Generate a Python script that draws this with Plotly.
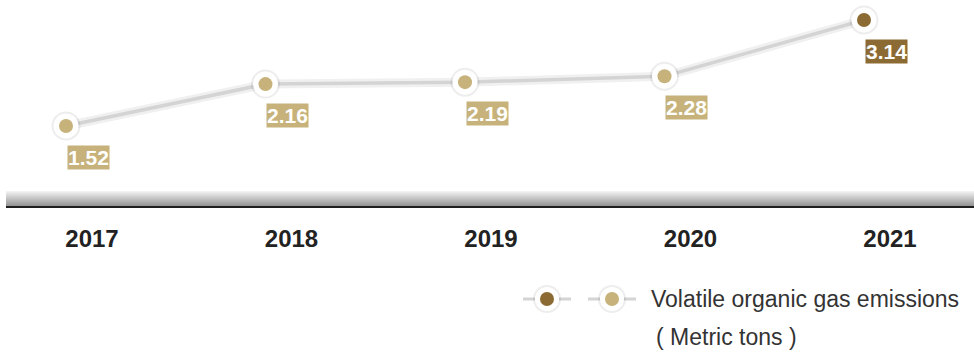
import plotly.graph_objects as go

years = [2017, 2018, 2019, 2020, 2021]
values = [1.52, 2.16, 2.19, 2.28, 3.14]
labels = ["1.52", "2.16", "2.19", "2.28", "3.14"]
tick_text = ["2017", "2018", "2019", "2020", "2021"]
legend_name = "Volatile organic gas emissions"
legend_unit = "( Metric tons )"

TAN = "#c6b27a"
DARK = "#8c6a33"
W, H = 974, 354
colors = [TAN] * (len(values) - 1) + [DARK]

fig = go.Figure()

# line shadow + line
fig.add_trace(go.Scatter(x=years, y=values, mode="lines",
                         line=dict(color="rgba(0,0,0,0.06)", width=9),
                         hoverinfo="skip"))
fig.add_trace(go.Scatter(x=years, y=values, mode="lines",
                         line=dict(color="#d4d4d4", width=3.5),
                         hoverinfo="skip"))
# marker halo, white ring, colored dot
fig.add_trace(go.Scatter(x=years, y=values, mode="markers",
                         marker=dict(size=29, color="rgba(0,0,0,0.07)"),
                         hoverinfo="skip"))
fig.add_trace(go.Scatter(x=years, y=values, mode="markers",
                         marker=dict(size=25, color="white"),
                         hoverinfo="skip"))
fig.add_trace(go.Scatter(x=years, y=values, mode="markers",
                         marker=dict(size=14, color=colors),
                         hoverinfo="skip"))

# value labels
for yr, v, t, c in zip(years, values, labels, colors):
    fig.add_annotation(x=yr, y=v, xref="x", yref="y", text="<b>" + t + "</b>",
                       showarrow=False, xshift=22, yshift=-31,
                       bgcolor=c, borderpad=0,
                       font=dict(family="Liberation Sans", size=21, color="white"))

# gradient band under the axis
band_top, band_bot = 191, 206
n = band_bot - band_top
for i in range(n):
    g = int(242 - (242 - 150) * i / (n - 1))
    fig.add_shape(type="rect", xref="paper", yref="paper",
                  x0=6 / W, x1=1, y0=1 - (band_top + i + 1) / H, y1=1 - (band_top + i) / H,
                  fillcolor=f"rgb({g},{g},{g})", line=dict(width=0), layer="below")
fig.add_shape(type="line", xref="paper", yref="paper",
              x0=6 / W, x1=1, y0=1 - 207 / H, y1=1 - 207 / H,
              line=dict(color="#1e1e1e", width=2))

# legend drawn on a second, full-page pair of axes
leg_x = [547, 612]
leg_c = [DARK, TAN]
for lx in leg_x:
    fig.add_trace(go.Scatter(x=[lx - 24, lx + 24], y=[299, 299], mode="lines",
                             line=dict(color="#d4d4d4", width=3),
                             xaxis="x2", yaxis="y2", hoverinfo="skip"))
fig.add_trace(go.Scatter(x=leg_x, y=[299, 299], mode="markers",
                         marker=dict(size=28, color="rgba(0,0,0,0.07)"),
                         xaxis="x2", yaxis="y2", hoverinfo="skip"))
fig.add_trace(go.Scatter(x=leg_x, y=[299, 299], mode="markers",
                         marker=dict(size=24, color="white"),
                         xaxis="x2", yaxis="y2", hoverinfo="skip"))
fig.add_trace(go.Scatter(x=leg_x, y=[299, 299], mode="markers",
                         marker=dict(size=14, color=leg_c),
                         xaxis="x2", yaxis="y2", hoverinfo="skip"))
fig.add_annotation(x=650 / W, y=1 - 299 / H, xref="paper", yref="paper",
                   text=legend_name, showarrow=False, xanchor="left", yanchor="middle",
                   borderpad=0,
                   font=dict(family="Liberation Sans", size=23, color="#333333"))
fig.add_annotation(x=655 / W, y=1 - 337 / H, xref="paper", yref="paper",
                   text=legend_unit, showarrow=False, xanchor="left", yanchor="middle",
                   borderpad=0,
                   font=dict(family="Liberation Sans", size=23, color="#333333"))

# axis ranges
k = 199.5
x0 = 2017 - 66 / k
x1 = 2017 + (W - 66) / k
plot_h = 206
py_per = (126 - 20) / (values[-1] - values[0])
ymax = values[-1] + 20 / py_per
ymin = ymax - plot_h / py_per

fig.update_layout(
    width=W, height=H,
    margin=dict(l=0, r=0, t=0, b=0, autoexpand=False),
    paper_bgcolor="white", plot_bgcolor="rgba(0,0,0,0)",
    showlegend=False,
    xaxis=dict(range=[x0, x1], tickvals=years, ticktext=["<b>" + t + "</b>" for t in tick_text],
               showgrid=False, zeroline=False, showline=False, ticks="",
               ticklabelshift=26, ticklabelstandoff=16, automargin=False,
               tickfont=dict(family="Liberation Sans", size=24, color="#222222")),
    yaxis=dict(range=[ymin, ymax], domain=[1 - plot_h / H, 1], visible=False, automargin=False),
    xaxis2=dict(range=[0, W], domain=[0, 1], visible=False, anchor="y2"),
    yaxis2=dict(range=[H, 0], domain=[0, 1], visible=False, anchor="x2"),
)

fig.write_html("out.html", config={"displayModeBar": False},
               post_script="document.body.style.margin='0';document.body.style.overflow='hidden';")
